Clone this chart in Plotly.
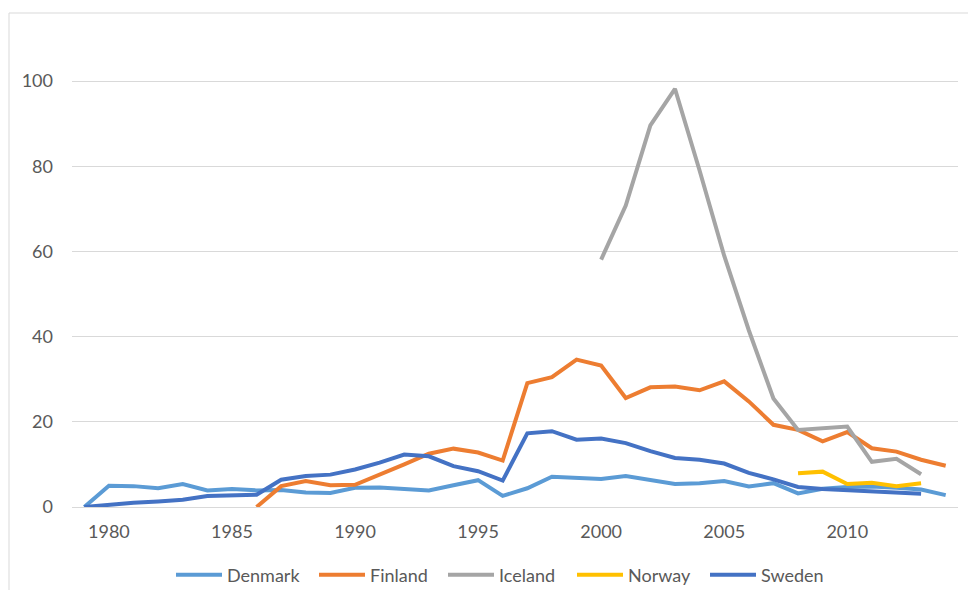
import plotly.graph_objects as go

years = list(range(1979, 2015))

denmark = [0, 5.0, 4.9, 4.4, 5.4, 3.9, 4.2, 3.9, 4.0, 3.4, 3.3, 4.5, 4.6, 4.2, 3.9, 5.1,
           6.3, 2.6, 4.4, 7.1, 6.9, 6.6, 7.3, 6.3, 5.4, 5.6, 6.1, 4.8, 5.6, 3.2, 4.3, 4.7,
           4.8, 4.5, 4.1, 2.8]
finland = [None] * 7 + [0, 4.9, 6.1, 5.1, 5.2, 7.5, 10.0, 12.5, 13.7, 12.8, 10.9, 29.1, 30.5,
                        34.6, 33.2, 25.6, 28.1, 28.3, 27.4, 29.5, 24.8, 19.3, 18.1, 15.4, 17.6,
                        13.8, 13.0, 11.1, 9.7]
iceland = [None] * 21 + [58.1, 70.8, 89.6, 98.2, 79.0, 59.0, 41.5, 25.5, 18.1, 18.4, 18.9,
                         10.6, 11.3, 7.7, None]
norway = [None] * 29 + [7.9, 8.3, 5.4, 5.7, 4.9, 5.6, None]
sweden = [0, 0.6, 1.0, 1.3, 1.7, 2.6, 2.7, 2.9, 6.4, 7.3, 7.6, 8.8, 10.4, 12.3, 11.9, 9.6,
          8.4, 6.2, 17.3, 17.8, 15.8, 16.1, 15.0, 13.1, 11.5, 11.1, 10.2, 8.0, 6.5, 4.7, 4.2,
          3.9, 3.5, 3.4, 3.1, None]

series = [("Denmark", denmark, "#5B9BD5"),
          ("Finland", finland, "#ED7D31"),
          ("Iceland", iceland, "#A5A5A5"),
          ("Norway", norway, "#FFC000"),
          ("Sweden", sweden, "#4472C4")]

x_ticks = [1980, 1985, 1990, 1995, 2000, 2005, 2010]
y_ticks = [0, 20, 40, 60, 80, 100]

font_family = "Lato, 'Open Sans', sans-serif"
OFF = 8  # page body margin offset
W, H = 960, 582
L, T = 72 - OFF, 30 - OFF
R = W - (958 - OFF)
B = H - (507 - OFF)
pw, ph = W - L - R, H - T - B

# page-pixel x where each legend entry's text should begin
legend_text_x = [228, 371, 500, 629, 762]
ITEMW = 46

fig = go.Figure()
legend_layout = {}
for i, (name, vals, col) in enumerate(series):
    key = "legend" if i == 0 else f"legend{i + 1}"
    fig.add_trace(go.Scatter(x=years, y=vals, name=name, mode="lines",
                             line=dict(color=col, width=4), connectgaps=False,
                             legend=key))
    origin = legend_text_x[i] - OFF - (ITEMW + 11)
    legend_layout[key] = dict(orientation="h", x=(origin - L) / pw, xanchor="left",
                              y=((507 - OFF) - (575 - OFF)) / ph, yanchor="middle",
                              itemwidth=ITEMW,
                              font=dict(size=18, color="#595959", family=font_family),
                              bgcolor="rgba(0,0,0,0)", borderwidth=0)

fig.update_layout(
    width=W, height=H,
    margin=dict(l=L, r=R, t=T, b=B, autoexpand=False),
    paper_bgcolor="white", plot_bgcolor="white",
    font=dict(family=font_family, size=18, color="#595959"),
    showlegend=True,
    xaxis=dict(range=[1978.5, 2014.5], tickvals=x_ticks, ticktext=[str(v) for v in x_ticks],
               showgrid=False, zeroline=False, showline=True, linecolor="#D9D9D9",
               linewidth=1, ticks="", ticklabelstandoff=8, fixedrange=True,
               automargin=False),
    yaxis=dict(range=[0, 112], tickvals=y_ticks, showgrid=True, gridcolor="#D9D9D9",
               gridwidth=1, zeroline=False, showline=False, ticks="",
               ticklabelstandoff=18, fixedrange=True, automargin=False),
    shapes=[dict(type="rect", xref="paper", yref="paper",
                 x0=((9 - OFF) - L) / pw, x1=(W + 5 - L) / pw,
                 y0=-(B + 5) / ph, y1=((507 - OFF) - (13 - OFF)) / ph,
                 line=dict(color="#D9D9D9", width=1), fillcolor="rgba(0,0,0,0)",
                 layer="below")],
    **legend_layout,
)

fig.write_html("out.html")
